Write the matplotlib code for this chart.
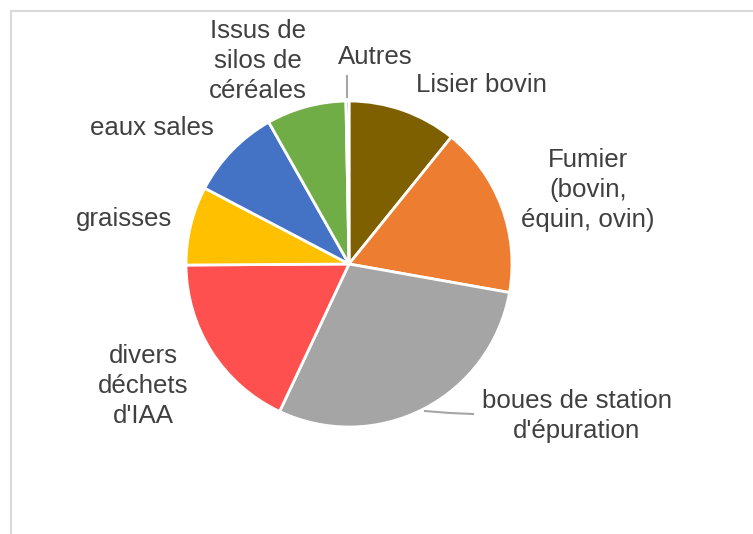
import matplotlib.pyplot as plt
from matplotlib.patches import Rectangle

# parts of the pie (%), clockwise from 12 o'clock
categories = ['Lisier bovin', 'Fumier\n(bovin,\néquin, ovin)', "boues de station\nd'épuration",
              "divers\ndéchets\nd'IAA", 'graisses', 'eaux sales',
              'Issus de\nsilos de\ncéréales', 'Autres']
values = [10.8, 17.0, 29.2, 17.9, 7.8, 9.1, 7.9, 0.3]
colors = ['#7F6000', '#ED7D31', '#A5A5A5', '#FF5050', '#FFC000', '#4472C4', '#70AD47', '#264478']

W, H = 753, 534
plt.rcParams['font.family'] = ['Liberation Sans', 'DejaVu Sans']

fig = plt.figure(figsize=(W / 100, H / 100), dpi=100)
ax = fig.add_axes([0, 0, 1, 1])

# pixel y (from top) -> data y
def Y(y):
    return H - y

ax.pie(values, colors=colors, startangle=90, counterclock=False,
       center=(349, Y(264)), radius=163, frame=True,
       wedgeprops=dict(edgecolor='white', linewidth=2))
ax.set_xlim(0, W)
ax.set_ylim(0, H)
ax.set_aspect('equal')
ax.axis('off')

# label positions (pixels from top-left)
label_pos = [(481, 85), (588, 190), (577, 416), (143, 386), (124, 219),
             (152, 128), (258, 61), (375, 57)]
for txt, (x, y) in zip(categories, label_pos):
    ax.text(x, Y(y), txt, ha='center', va='center', fontsize=18.6,
            color='#404040', linespacing=1.3, multialignment='center')

# leader lines
ax.plot([347, 347], [Y(76), Y(97)], color='#A6A6A6', lw=1.5)
ax.plot([425, 450, 473], [Y(411), Y(413), Y(414)], color='#A6A6A6', lw=1.5)

# chart area border (partly cut)
ax.add_patch(Rectangle((11, Y(560)), 800, 549, fill=False, edgecolor='#D9D9D9',
                       lw=1.5, clip_on=False))

fig.savefig('out.png', dpi=100)
